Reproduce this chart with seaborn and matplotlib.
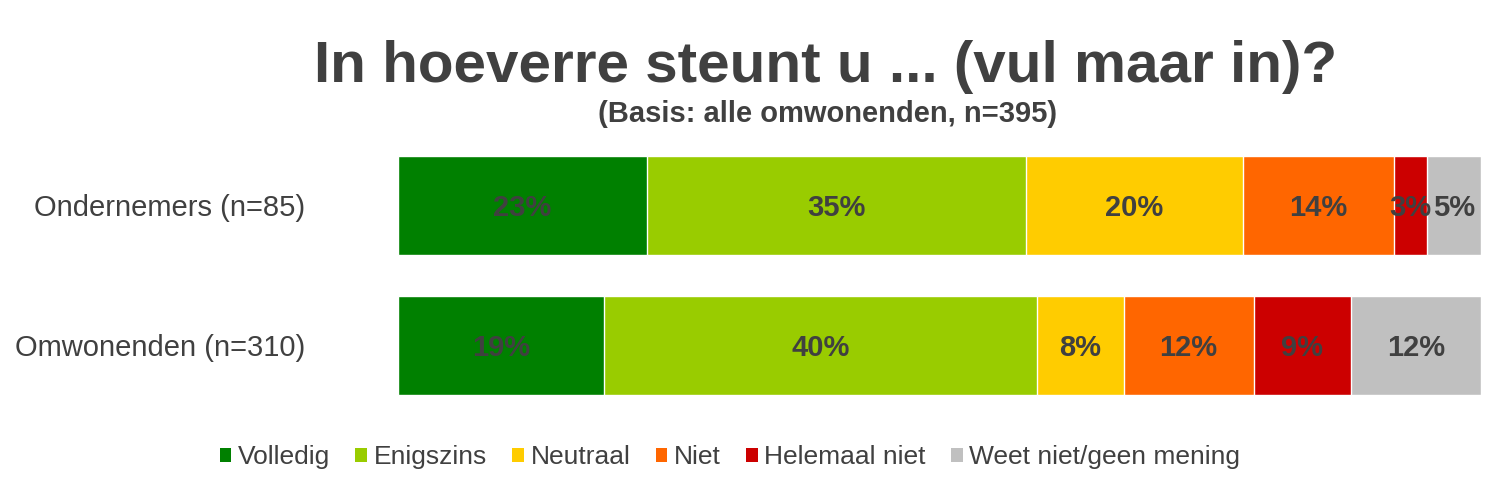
import seaborn as sns
import matplotlib.pyplot as plt
import pandas as pd
import numpy as np
from matplotlib.patches import Patch

groups = ["Ondernemers (n=85)", "Omwonenden (n=310)"]
answers = ["Volledig", "Enigszins", "Neutraal", "Niet", "Helemaal niet", "Weet niet/geen mening"]
colors = ["#008000", "#99CC00", "#FFCC00", "#FF6600", "#CC0000", "#C0C0C0"]
ondernemers = [23, 35, 20, 14, 3, 5]
omwonenden = [19, 40, 8, 12, 9, 12]

title = "In hoeverre steunt u ... (vul maar in)?"
subtitle = "(Basis: alle omwonenden, n=395)"
text_color = "#404040"

rows = []
for g, vals in zip(groups, [ondernemers, omwonenden]):
    cum = np.cumsum(vals)
    for a, v, c in zip(answers, vals, cum):
        rows.append({"group": g, "answer": a, "value": v, "cum": c})
df = pd.DataFrame(rows)

sns.set_theme(style="white")
plt.rcParams['font.family'] = ['Liberation Sans', 'DejaVu Sans']

fig = plt.figure(figsize=(15, 4.82), dpi=100)
ax = fig.add_axes([398 / 1500, 1 - 415.5 / 482, (1481 - 398) / 1500, 280 / 482])

# stacked bars: draw cumulative layers from the outermost inwards
for a, col in reversed(list(zip(answers, colors))):
    sub = df[df["answer"] == a]
    sns.barplot(data=sub, x="cum", y="group", order=groups, color=col, orient="h",
                saturation=1, width=0.707, edgecolor="white", linewidth=1, ax=ax)

for _, r in df.iterrows():
    yi = groups.index(r["group"])
    ax.text(r["cum"] - r["value"] / 2, yi + 0.02, f"{r['value']}%", ha="center", va="center",
            fontsize=21, fontweight="bold", color=text_color)

ax.set_xlim(0, 100)
ax.set_ylim(1.5, -0.5)
ax.set_xlabel("")
ax.set_ylabel("")
ax.set_xticks([])
ax.tick_params(axis="y", length=0, pad=67, labelsize=21, labelcolor=text_color)
sns.despine(ax=ax, left=True, bottom=True)

fig.text(826 / 1500, 1 - 67 / 482, title, ha="center", va="center",
         fontsize=42, fontweight="bold", color=text_color)
fig.text(828 / 1500, 1 - 114 / 482, subtitle, ha="center", va="center",
         fontsize=21, fontweight="bold", color=text_color)

handles = [Patch(facecolor=c, edgecolor="none") for c in colors]
fig.legend(handles, answers, loc="center", bbox_to_anchor=(730 / 1500, 1 - 457 / 482),
           ncol=6, frameon=False, fontsize=19, handlelength=0.45, handleheight=0.45,
           handletextpad=0.25, columnspacing=0.95, labelcolor=text_color)

fig.savefig("out.png", dpi=100)
